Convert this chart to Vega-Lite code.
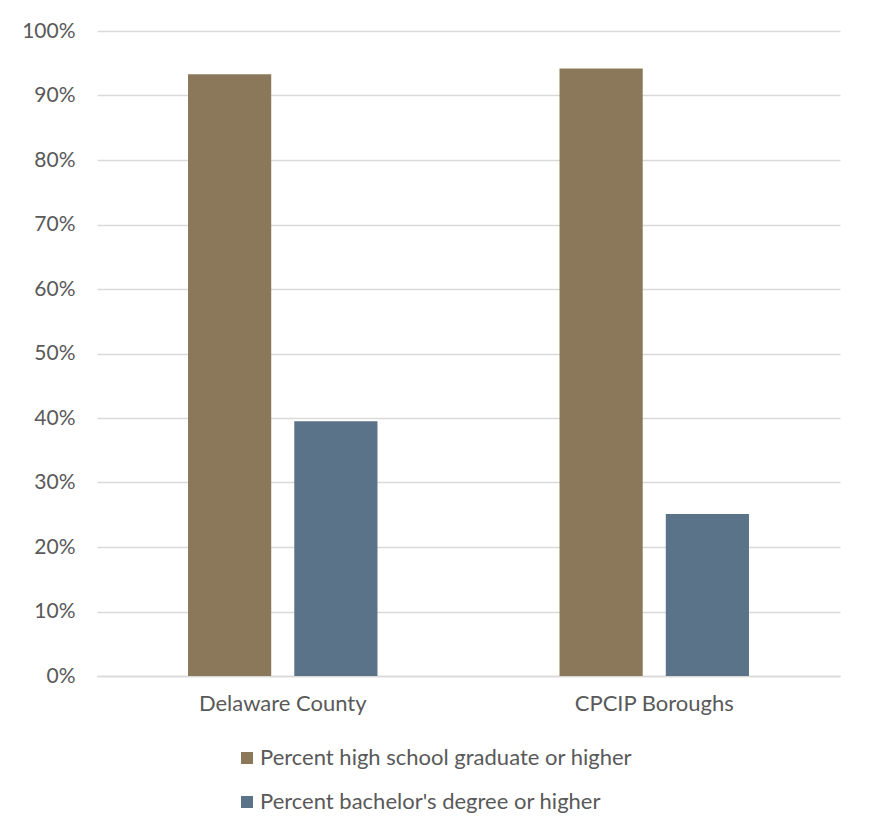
{
  "$schema": "https://vega.github.io/schema/vega-lite/v6.json",
  "width": 743,
  "height": 645,
  "autosize": {"type": "none"},
  "padding": {"left": 97, "top": 31, "right": 29, "bottom": 157},
  "background": "#ffffff",
  "data": {
    "values": [
      {"area": "Delaware County", "measure": "Percent high school graduate or higher", "share": 0.933},
      {"area": "Delaware County", "measure": "Percent bachelor's degree or higher", "share": 0.395},
      {"area": "CPCIP Boroughs", "measure": "Percent high school graduate or higher", "share": 0.942},
      {"area": "CPCIP Boroughs", "measure": "Percent bachelor's degree or higher", "share": 0.251}
    ]
  },
  "mark": {"type": "bar"},
  "encoding": {
    "x": {
      "field": "area",
      "type": "nominal",
      "sort": ["Delaware County", "CPCIP Boroughs"],
      "scale": {"paddingInner": 0.49, "paddingOuter": 0.245},
      "axis": {
        "title": null,
        "labelAngle": 0,
        "labelFontSize": 22,
        "labelColor": "#595959",
        "labelPadding": 17,
        "ticks": false,
        "domainColor": "#d9d9d9",
        "domainWidth": 1.5
      }
    },
    "xOffset": {
      "field": "measure",
      "type": "nominal",
      "sort": ["Percent high school graduate or higher", "Percent bachelor's degree or higher"],
      "scale": {"paddingInner": 0.217, "paddingOuter": 0}
    },
    "y": {
      "field": "share",
      "type": "quantitative",
      "scale": {"domain": [0, 1], "nice": false},
      "axis": {
        "title": null,
        "format": ".0%",
        "values": [0, 0.1, 0.2, 0.3, 0.4, 0.5, 0.6, 0.7, 0.8, 0.9, 1],
        "labelFontSize": 21,
        "labelColor": "#595959",
        "labelPadding": 22,
        "ticks": false,
        "domain": false,
        "gridColor": "#d9d9d9",
        "gridWidth": 1.5
      }
    },
    "color": {
      "field": "measure",
      "type": "nominal",
      "sort": ["Percent high school graduate or higher", "Percent bachelor's degree or higher"],
      "scale": {"range": ["#8b785a", "#5b7389"]},
      "legend": {
        "title": null,
        "orient": "none",
        "direction": "vertical",
        "legendX": 139,
        "legendY": 716,
        "symbolType": "square",
        "symbolSize": 144,
        "symbolStrokeWidth": 0,
        "labelFontSize": 22,
        "labelColor": "#595959",
        "labelOffset": 2,
        "rowPadding": 22,
        "labelLimit": 600
      }
    }
  },
  "config": {
    "font": "Lato",
    "view": {"stroke": null}
  }
}
